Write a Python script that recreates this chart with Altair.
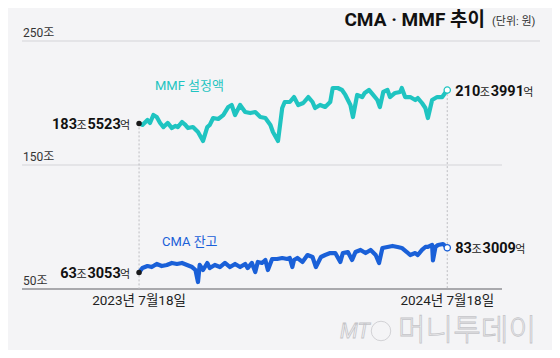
import altair as alt
import pandas as pd

# ---------------- data ----------------
start_date = "2023-07-18"
end_date = "2024-07-18"

mmf_days = [0, 4, 10, 13, 17, 21, 25, 29, 34, 39, 43, 46, 51, 55, 58, 64, 70, 76, 81, 84,
            88, 94, 100, 106, 110, 114, 120, 126, 132, 138, 144, 150, 156, 159, 165, 170, 173, 179, 184, 189,
            195, 201, 206, 209, 215, 221, 227, 230, 236, 241, 245, 251, 254, 259, 265, 268, 273, 278, 283, 286,
            290, 295, 298, 304, 310, 312, 316, 322, 328, 331, 336, 340, 343, 348, 354, 360, 366]
mmf_vals = [183.55, 182.3, 186.3, 183.9, 190.3, 188.7, 183.9, 180.6, 183.9, 179.8,
            181.5, 180.6, 184.7, 182.3, 179.8, 180.6, 176.6, 169.4, 180.6, 182.3,
            187.9, 187.1, 190.3, 196.8, 198.4, 190.3, 198.4, 192.7, 191.9, 192.7,
            188.7, 187.9, 182.3, 176.6, 169.4, 196.0, 200.8, 200.8, 204.8, 198.4,
            200.0, 204.8, 200.8, 196.0, 198.4, 196.8, 200.8, 212.1, 212.1, 210.5,
            206.5, 198.4, 188.7, 206.5, 204.8, 208.1, 210.5, 206.5, 202.4, 196.8,
            208.9, 210.5, 204.8, 208.1, 208.9, 212.1, 204.8, 204.8, 202.4, 204.0,
            200.0, 196.0, 187.9, 202.4, 204.8, 204.8, 210.40]

cma_days = [0, 4, 10, 15, 21, 27, 33, 39, 45, 51, 57, 63, 67, 70, 72, 76, 81, 84, 90, 96,
            102, 108, 114, 120, 126, 129, 134, 138, 141, 146, 150, 153, 158, 164, 170, 176, 179, 182, 184, 188,
            194, 200, 206, 210, 216, 221, 227, 233, 239, 242, 248, 253, 257, 263, 269, 275, 281, 285, 289, 295,
            301, 307, 312, 318, 322, 328, 331, 336, 340, 343, 348, 349, 352, 355, 361, 366]
cma_vals = [63.31, 66.9, 68.5, 67.7, 70.2, 68.5, 69.4, 71.0, 70.2, 71.0,
            69.4, 67.7, 65.3, 55.6, 69.4, 65.3, 71.0, 66.9, 69.4, 67.7,
            71.0, 67.7, 70.2, 67.7, 70.2, 66.9, 71.0, 63.7, 71.8, 71.0,
            73.4, 65.3, 74.2, 74.2, 75.0, 74.2, 75.0, 67.7, 73.4, 75.0,
            71.8, 77.4, 75.8, 67.7, 75.8, 77.4, 79.0, 79.0, 71.8, 79.0,
            79.8, 73.4, 79.8, 81.5, 79.0, 81.5, 77.4, 71.0, 83.1, 83.9,
            84.7, 83.9, 83.1, 79.8, 77.4, 79.0, 77.4, 81.5, 83.9, 83.9,
            85.5, 73.0, 83.9, 85.5, 86.3, 83.30]

y_ticks = [250, 150, 50]
y_tick_labels = ["250조", "150조", "50조"]
x_label_dates = [start_date, end_date]
x_labels = ["2023년 7월18일", "2024년 7월18일"]

mmf_start_parts = [("183", "n"), ("조", "u"), ("5523", "n"), ("억", "u")]
mmf_end_parts = [("210", "n"), ("조", "u"), ("3991", "n"), ("억", "u")]
cma_start_parts = [("63", "n"), ("조", "u"), ("3053", "n"), ("억", "u")]
cma_end_parts = [("83", "n"), ("조", "u"), ("3009", "n"), ("억", "u")]

title_text = "CMA · MMF 추이"
unit_text = "(단위: 원)"
mmf_name = "MMF 설정액"
cma_name = "CMA 잔고"

# ---------------- styles ----------------
FONT = "Roboto, 'Noto Sans CJK KR', sans-serif"
KFONT = "'Noto Sans CJK KR', sans-serif"
BG = "#f4f4f6"
MMF_C = "#1fc4c1"
CMA_C = "#1a60d8"

t0 = pd.Timestamp(start_date)
t1 = pd.Timestamp(end_date)


def to_dates(days):
    return [t0 + pd.Timedelta(days=d) for d in days]


mmf_df = pd.DataFrame({"date": to_dates(mmf_days), "value": mmf_vals})
cma_df = pd.DataFrame({"date": to_dates(cma_days), "value": cma_vals})

X = alt.X("date:T", axis=None,
          scale=alt.Scale(domain=[alt.DateTime(year=2023, month=3, date=1),
                                  alt.DateTime(year=2024, month=9, date=21)]))
Y = alt.Y("value:Q", axis=None, scale=alt.Scale(domain=[50, 250]))

layers = []

# gridlines
layers.append(alt.Chart(pd.DataFrame({"value": [y_ticks[0]]})).mark_rule(color="#d4d4d8", strokeWidth=1)
              .encode(y=Y, x=alt.value(0), x2=alt.value(518)))
layers.append(alt.Chart(pd.DataFrame({"value": [y_ticks[1]]})).mark_rule(color="#d4d4d8", strokeWidth=1)
              .encode(y=Y, x=alt.value(0), x2=alt.value(480)))
layers.append(alt.Chart(pd.DataFrame({"value": [y_ticks[2]]})).mark_rule(color="#a9a9ad", strokeWidth=2)
              .encode(y=Y, x=alt.value(0), x2=alt.value(480)))

# dotted verticals
vdf = pd.DataFrame({"date": [t0, t1], "value": [mmf_vals[0], mmf_vals[-1]], "base": [50, 50]})
layers.append(alt.Chart(vdf).mark_rule(color="#bdbdc2", strokeWidth=1, strokeDash=[2, 2])
              .encode(x=X, y=Y, y2="base:Q"))

# tick labels
tdf = pd.DataFrame({"value": y_ticks, "label": y_tick_labels})
layers.append(alt.Chart(tdf).mark_text(align="left", baseline="alphabetic", dy=-4, fontSize=12,
                                       font=FONT, color="#333333")
              .encode(y=Y, x=alt.value(1), text="label:N"))

# x labels
xdf = pd.DataFrame({"date": [pd.Timestamp(d) for d in x_label_dates], "label": x_labels})
layers.append(alt.Chart(xdf).mark_text(align="center", baseline="middle", fontSize=13.5,
                                       font=FONT, color="#222222")
              .encode(x=X, y=alt.value(260), text="label:N"))

# lines
layers.append(alt.Chart(mmf_df).mark_line(color=MMF_C, strokeWidth=4.2, strokeJoin="round", strokeCap="round")
              .encode(x=X, y=Y))
layers.append(alt.Chart(cma_df).mark_line(color=CMA_C, strokeWidth=4.2, strokeJoin="round", strokeCap="round")
              .encode(x=X, y=Y))

# start dots
sdf = pd.DataFrame({"date": [t0, t0], "value": [mmf_vals[0], cma_vals[0]]})
layers.append(alt.Chart(sdf).mark_circle(color="#1a1a1a", size=30, opacity=1).encode(x=X, y=Y))
# end dots
layers.append(alt.Chart(pd.DataFrame({"date": [t1], "value": [mmf_vals[-1]]}))
              .mark_point(shape="circle", filled=True, fill="#ffffff", stroke=MMF_C, strokeWidth=1.3, size=40, opacity=1)
              .encode(x=X, y=Y))
layers.append(alt.Chart(pd.DataFrame({"date": [t1], "value": [cma_vals[-1]]}))
              .mark_point(shape="circle", filled=True, fill="#ffffff", stroke=CMA_C, strokeWidth=1.3, size=40, opacity=1)
              .encode(x=X, y=Y))

# value labels built from pieces
NUM_SIZE = 14.5
UNIT_SIZE = 11
DW = 8.15   # Roboto bold digit advance at NUM_SIZE
UW = 11.0   # Hangul advance at UNIT_SIZE


def label_layers(date, value, parts, side):
    out = []
    widths = [len(t) * DW if k == "n" else UW for t, k in parts]
    dx = (-8 - sum(widths)) if side == "left" else 8
    for (t, k), w in zip(parts, widths):
        df = pd.DataFrame({"date": [date], "value": [value], "t": [t]})
        if k == "n":
            mk = alt.Chart(df).mark_text(align="left", baseline="alphabetic", dx=dx, dy=5.5,
                                         fontSize=NUM_SIZE, fontWeight="bold", font="Roboto", color="#111111")
        else:
            mk = alt.Chart(df).mark_text(align="left", baseline="alphabetic", dx=dx, dy=5.5,
                                         fontSize=UNIT_SIZE, font=KFONT, color="#222222")
        out.append(mk.encode(x=X, y=Y, text="t:N"))
        dx += w
    return out


layers += label_layers(t0, mmf_vals[0], mmf_start_parts, "left")
layers += label_layers(t1, mmf_vals[-1], mmf_end_parts, "right")
layers += label_layers(t0, cma_vals[0], cma_start_parts, "left")
layers += label_layers(t1, cma_vals[-1], cma_end_parts, "right")

# series names
layers.append(alt.Chart(pd.DataFrame({"t": [mmf_name]})).mark_text(align="left", baseline="middle", fontSize=13,
                                                                    font=FONT, color=MMF_C)
              .encode(x=alt.value(133), y=alt.value(45), text="t:N"))
layers.append(alt.Chart(pd.DataFrame({"t": [cma_name]})).mark_text(align="left", baseline="middle", fontSize=13,
                                                                    font=FONT, color=CMA_C)
              .encode(x=alt.value(140), y=alt.value(201), text="t:N"))

# title
layers.append(alt.Chart(pd.DataFrame({"t": [title_text]})).mark_text(align="right", baseline="middle", fontSize=19,
                                                                      fontWeight="bold", font=FONT, color="#111111")
              .encode(x=alt.value(463), y=alt.value(-21), text="t:N"))
layers.append(alt.Chart(pd.DataFrame({"t": [unit_text]})).mark_text(align="left", baseline="middle", fontSize=11,
                                                                     font=FONT, color="#333333")
              .encode(x=alt.value(470), y=alt.value(-19), text="t:N"))

# watermark
layers.append(alt.Chart(pd.DataFrame({"t": ["MT"]})).mark_text(align="left", baseline="middle", fontSize=21,
                                                                fontStyle="italic", font=FONT, fill=BG,
                                                                stroke="#c4c4c8", strokeWidth=0.8)
              .encode(x=alt.value(318), y=alt.value(291), text="t:N"))
layers.append(alt.Chart(pd.DataFrame({"t": ["o"]})).mark_point(shape="circle", size=380, filled=False,
                                                               color="#c4c4c8", strokeWidth=1)
              .encode(x=alt.value(359), y=alt.value(290)))
layers.append(alt.Chart(pd.DataFrame({"t": ["머니투데이"]})).mark_text(align="left", baseline="middle", fontSize=30,
                                                                   fontWeight=300, font=KFONT, fill=BG,
                                                                   stroke="#c4c4c8", strokeWidth=0.8)
              .encode(x=alt.value(376), y=alt.value(290), text="t:N"))

chart = alt.layer(*layers).properties(
    width=480, height=248,
    padding={"left": 14, "top": 33, "right": 50, "bottom": 61},
    autosize="none",
    background=BG,
).configure_view(stroke=None)

chart.save("out.html", embed_options={"renderer": "svg", "actions": False})
